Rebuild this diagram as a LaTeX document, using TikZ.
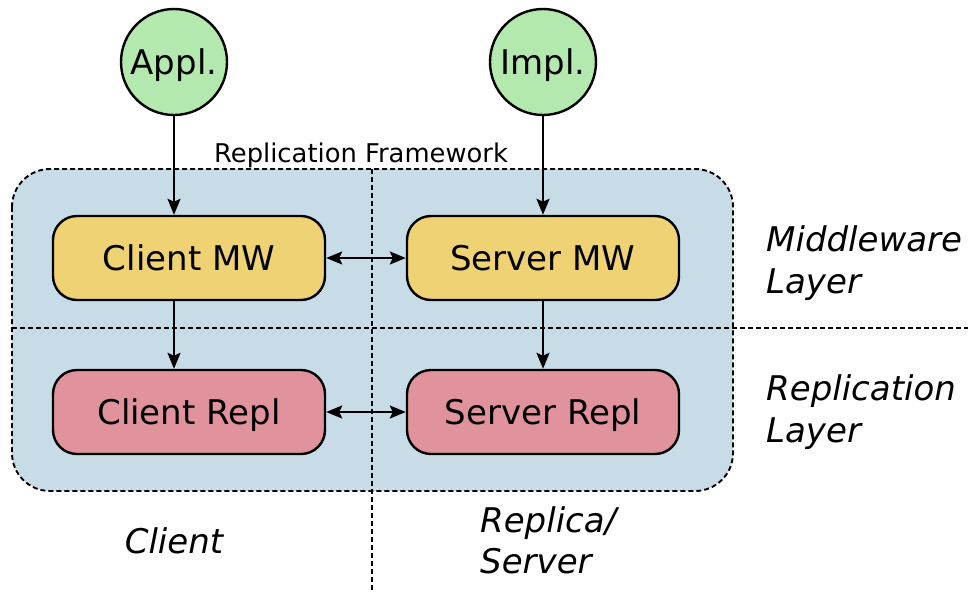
\documentclass[tikz,border=0pt]{standalone}
\usepackage{fontspec}
\setmainfont{DejaVu Sans}
\usetikzlibrary{arrows.meta}
\definecolor{frameblue}{HTML}{C8DCE8}
\definecolor{mwyellow}{HTML}{EFD273}
\definecolor{replpink}{HTML}{E0939D}
\definecolor{appgreen}{HTML}{B3E9AF}
\begin{document}
\begin{tikzpicture}[x=1pt,y=-1pt,
  >={Stealth[length=16pt,width=13pt,inset=3pt]},
  box/.style={draw=black,line width=2.4pt,rounded corners=24pt,minimum width=272pt,minimum height=84pt,inner sep=0pt,text height=25pt,text depth=0pt,font=\fontsize{34}{40}\selectfont},
  circ/.style={circle,draw=black,line width=2.4pt,fill=appgreen,minimum size=106pt,inner sep=0pt,text height=25pt,text depth=0pt,font=\fontsize{34}{40}\selectfont},
  conn/.style={line width=2.4pt,->},
  biconn/.style={line width=2.4pt,<->},
  sep/.style={line width=1.9pt,dash pattern=on 5pt off 3pt},
  lbl/.style={font=\fontsize{34}{40}\selectfont\itshape,anchor=base west,inner sep=0pt}]
\useasboundingbox (0,0) rectangle (968,592);
% framework area
\filldraw[fill=frameblue,sep,rounded corners=38pt] (12,169) rectangle (733,491);
\draw[sep] (372,169) -- (372,592);
\draw[sep] (12,328) -- (968,328);
% boxes
\node[box,fill=mwyellow] (cmw) at (189,258) {Client MW};
\node[box,fill=mwyellow] (smw) at (543,258) {Server MW};
\node[box,fill=replpink] (crep) at (189,412) {Client Repl};
\node[box,fill=replpink] (srep) at (543,412) {Server Repl};
\node[circ] (appl) at (174,62) {Appl.};
\node[circ] (impl) at (543,62) {Impl.};
% connectors
\draw[conn] (appl) -- (appl |- cmw.north);
\draw[conn] (impl) -- (smw);
\draw[conn] (cmw.south -| appl) -- (crep.north -| appl);
\draw[conn] (smw) -- (srep);
\draw[biconn] (cmw) -- (smw);
\draw[biconn] (crep) -- (srep);
% labels
\node[font=\fontsize{25.8}{30}\selectfont,anchor=base,inner sep=0pt] (rf) at (361,162) {Replication Framework};
\node[lbl] (mw1) at (766,251) {Middleware};
\node[lbl] (mw2) at (766,293) {Layer};
\node[lbl] (rl1) at (766,400) {Replication};
\node[lbl] (rl2) at (766,442) {Layer};
\node[lbl,anchor=base] (cl) at (174,553) {Client};
\node[lbl] (rs1) at (480,532) {Replica/};
\node[lbl] (rs2) at (480,573) {Server};
\end{tikzpicture}
\end{document}
